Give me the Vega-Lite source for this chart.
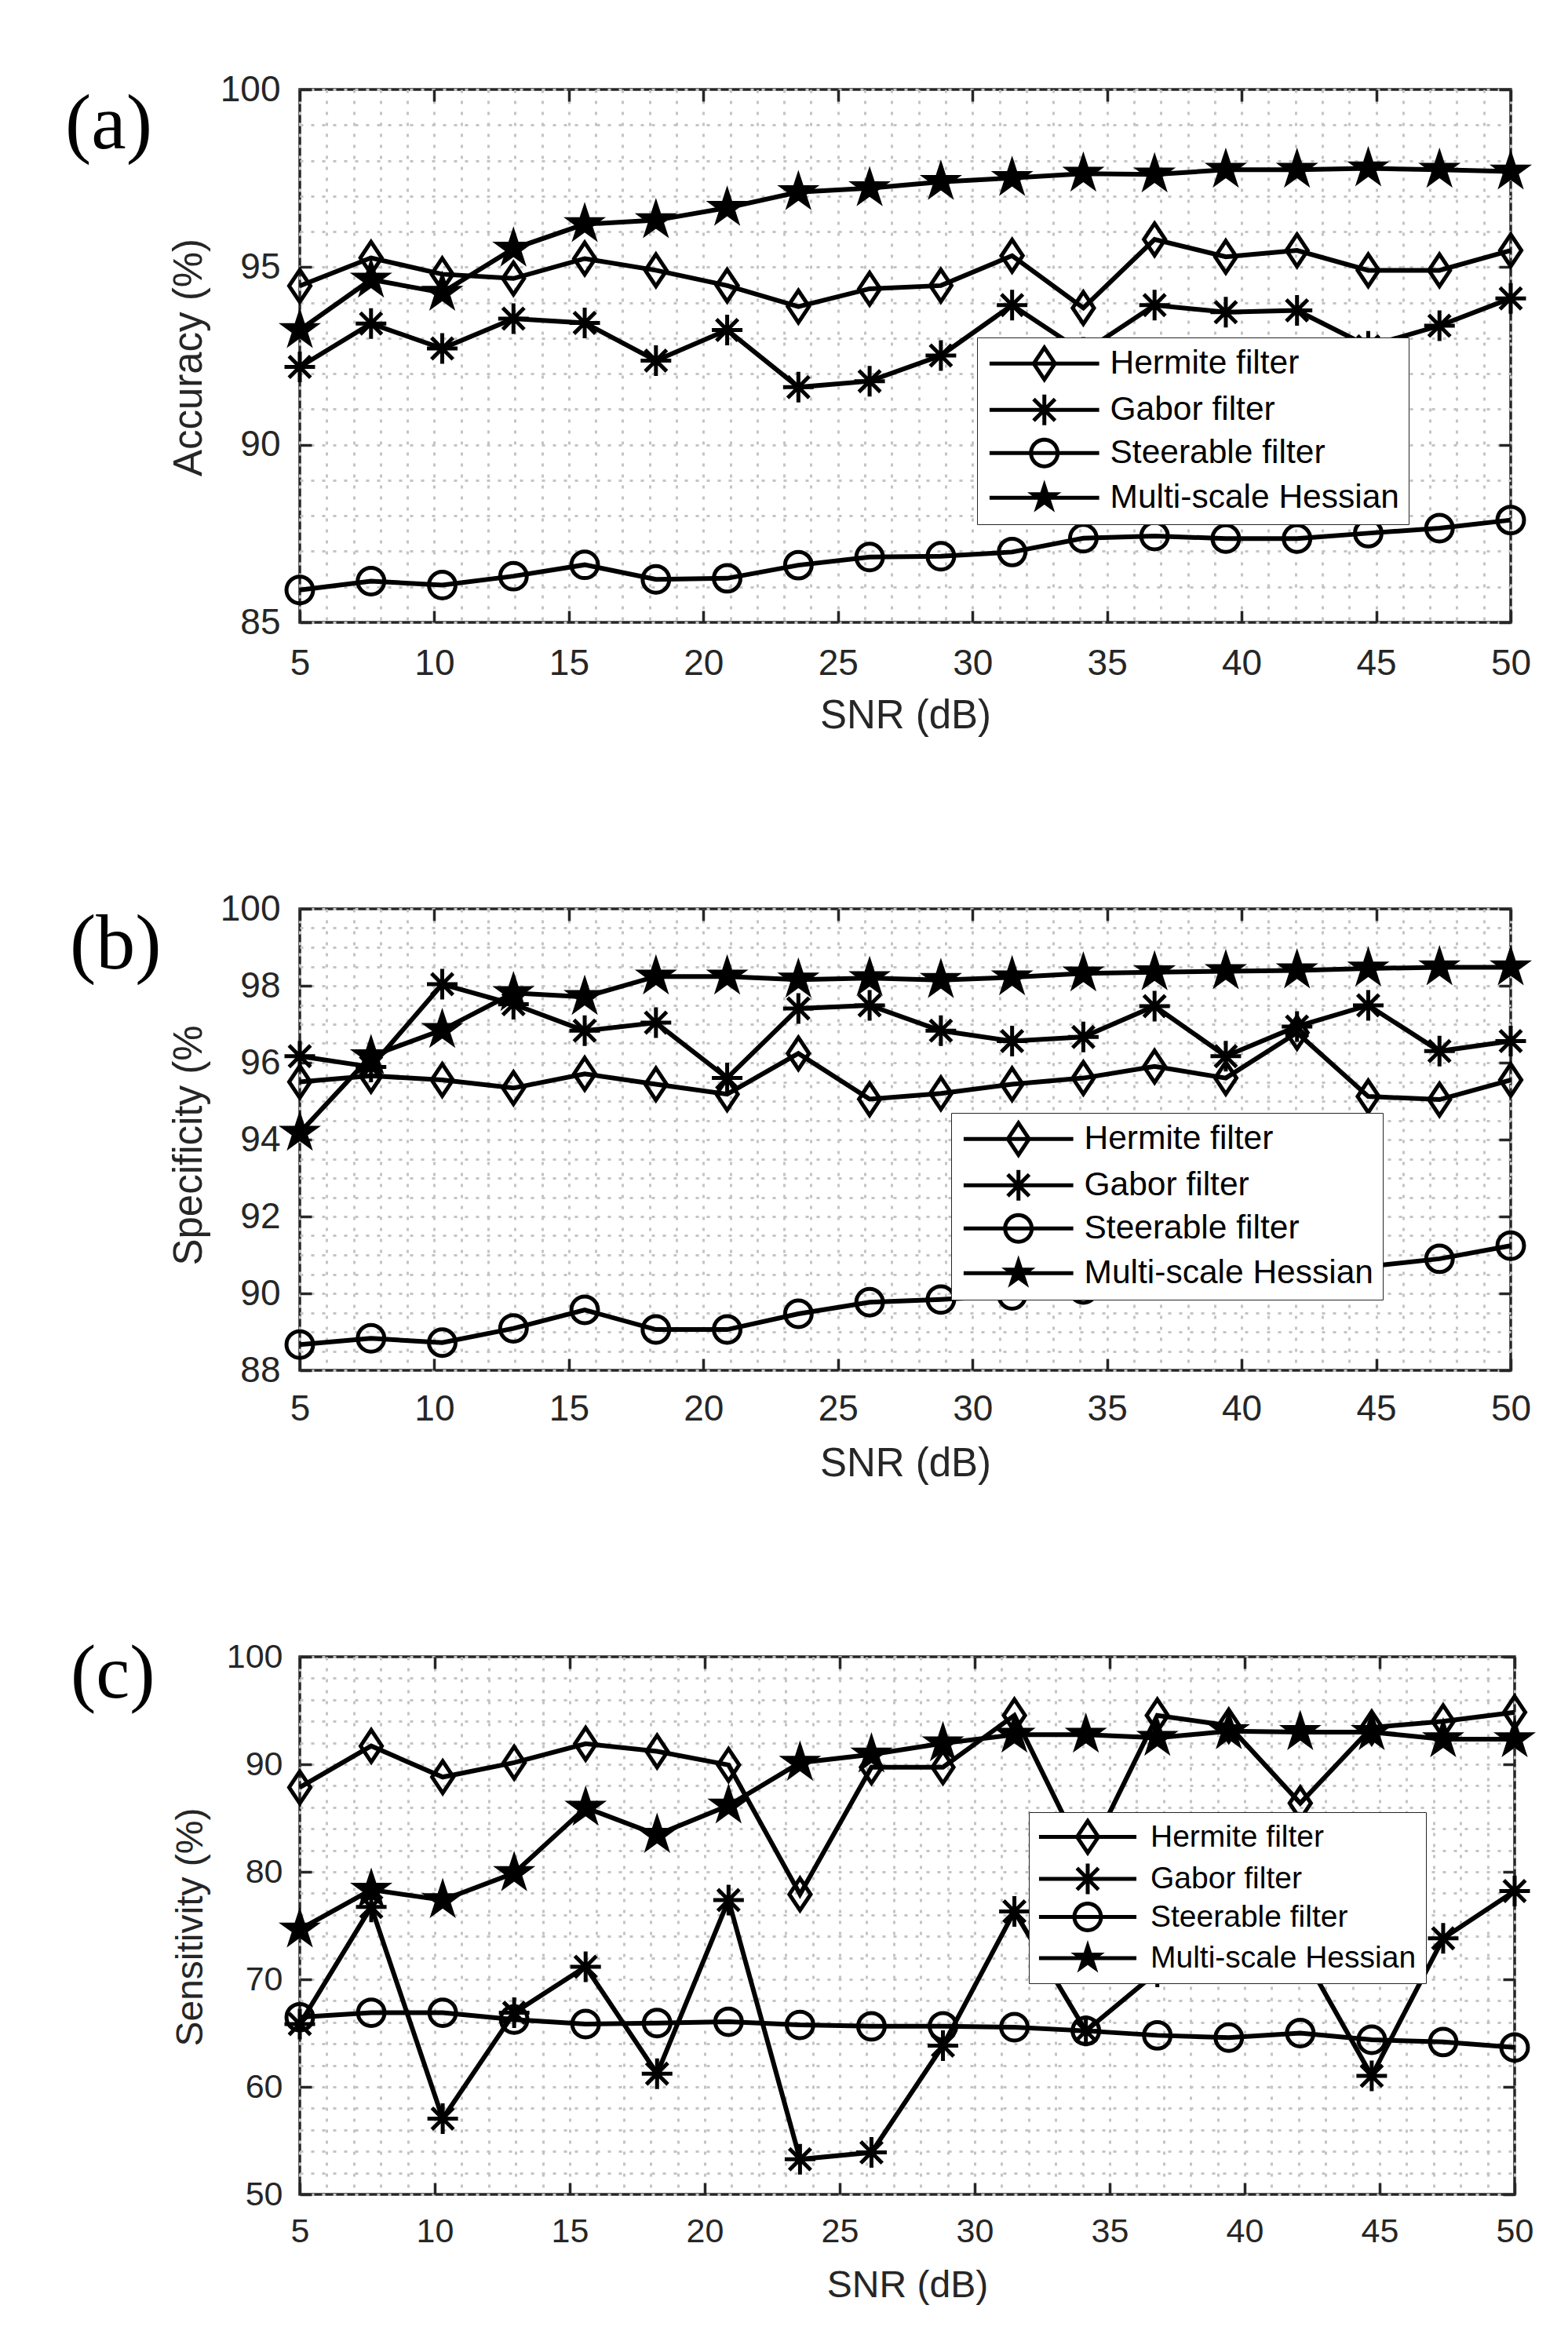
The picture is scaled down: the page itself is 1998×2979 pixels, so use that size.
{
  "$schema": "https://vega.github.io/schema/vega-lite/v6.json",
  "background": "white",
  "padding": {"left": 81, "top": 89, "right": 5, "bottom": 5},
  "bounds": "flush",
  "spacing": 365,
  "resolve": {"scale": {"shape": "independent", "fill": "independent"}, "legend": {"shape": "independent", "fill": "independent"}},
  "datasets": {
    "perf": [
      {"panel":"a","snr":5,"Hermite filter":94.47,"Gabor filter":92.19,"Steerable filter":85.91,"Multi-scale Hessian":93.23},
      {"panel":"a","snr":7.647,"Hermite filter":95.26,"Gabor filter":93.41,"Steerable filter":86.16,"Multi-scale Hessian":94.65},
      {"panel":"a","snr":10.294,"Hermite filter":94.8,"Gabor filter":92.71,"Steerable filter":86.05,"Multi-scale Hessian":94.28},
      {"panel":"a","snr":12.941,"Hermite filter":94.68,"Gabor filter":93.55,"Steerable filter":86.3,"Multi-scale Hessian":95.52},
      {"panel":"a","snr":15.588,"Hermite filter":95.24,"Gabor filter":93.43,"Steerable filter":86.62,"Multi-scale Hessian":96.21},
      {"panel":"a","snr":18.235,"Hermite filter":94.91,"Gabor filter":92.37,"Steerable filter":86.21,"Multi-scale Hessian":96.32},
      {"panel":"a","snr":20.882,"Hermite filter":94.48,"Gabor filter":93.23,"Steerable filter":86.24,"Multi-scale Hessian":96.67},
      {"panel":"a","snr":23.529,"Hermite filter":93.89,"Gabor filter":91.62,"Steerable filter":86.61,"Multi-scale Hessian":97.11},
      {"panel":"a","snr":26.176,"Hermite filter":94.39,"Gabor filter":91.79,"Steerable filter":86.84,"Multi-scale Hessian":97.22},
      {"panel":"a","snr":28.824,"Hermite filter":94.48,"Gabor filter":92.51,"Steerable filter":86.86,"Multi-scale Hessian":97.4},
      {"panel":"a","snr":31.471,"Hermite filter":95.32,"Gabor filter":93.93,"Steerable filter":86.98,"Multi-scale Hessian":97.51},
      {"panel":"a","snr":34.118,"Hermite filter":93.85,"Gabor filter":92.6,"Steerable filter":87.37,"Multi-scale Hessian":97.63},
      {"panel":"a","snr":36.765,"Hermite filter":95.78,"Gabor filter":93.93,"Steerable filter":87.43,"Multi-scale Hessian":97.61},
      {"panel":"a","snr":39.412,"Hermite filter":95.29,"Gabor filter":93.73,"Steerable filter":87.36,"Multi-scale Hessian":97.74},
      {"panel":"a","snr":42.059,"Hermite filter":95.47,"Gabor filter":93.78,"Steerable filter":87.36,"Multi-scale Hessian":97.74},
      {"panel":"a","snr":44.706,"Hermite filter":94.91,"Gabor filter":92.77,"Steerable filter":87.51,"Multi-scale Hessian":97.78},
      {"panel":"a","snr":47.353,"Hermite filter":94.91,"Gabor filter":93.35,"Steerable filter":87.65,"Multi-scale Hessian":97.74},
      {"panel":"a","snr":50,"Hermite filter":95.47,"Gabor filter":94.12,"Steerable filter":87.88,"Multi-scale Hessian":97.69},
      {"panel":"b","snr":5,"Hermite filter":95.5,"Gabor filter":96.17,"Steerable filter":88.67,"Multi-scale Hessian":94.18},
      {"panel":"b","snr":7.647,"Hermite filter":95.66,"Gabor filter":95.89,"Steerable filter":88.83,"Multi-scale Hessian":96.17},
      {"panel":"b","snr":10.294,"Hermite filter":95.55,"Gabor filter":98.04,"Steerable filter":88.72,"Multi-scale Hessian":96.85},
      {"panel":"b","snr":12.941,"Hermite filter":95.34,"Gabor filter":97.52,"Steerable filter":89.09,"Multi-scale Hessian":97.81},
      {"panel":"b","snr":15.588,"Hermite filter":95.71,"Gabor filter":96.83,"Steerable filter":89.57,"Multi-scale Hessian":97.71},
      {"panel":"b","snr":18.235,"Hermite filter":95.44,"Gabor filter":97.04,"Steerable filter":89.06,"Multi-scale Hessian":98.24},
      {"panel":"b","snr":20.882,"Hermite filter":95.18,"Gabor filter":95.6,"Steerable filter":89.06,"Multi-scale Hessian":98.24},
      {"panel":"b","snr":23.529,"Hermite filter":96.24,"Gabor filter":97.41,"Steerable filter":89.47,"Multi-scale Hessian":98.16},
      {"panel":"b","snr":26.176,"Hermite filter":95.05,"Gabor filter":97.49,"Steerable filter":89.77,"Multi-scale Hessian":98.2},
      {"panel":"b","snr":28.824,"Hermite filter":95.2,"Gabor filter":96.83,"Steerable filter":89.84,"Multi-scale Hessian":98.15},
      {"panel":"b","snr":31.471,"Hermite filter":95.44,"Gabor filter":96.56,"Steerable filter":89.95,"Multi-scale Hessian":98.22},
      {"panel":"b","snr":34.118,"Hermite filter":95.6,"Gabor filter":96.67,"Steerable filter":90.1,"Multi-scale Hessian":98.32},
      {"panel":"b","snr":36.765,"Hermite filter":95.9,"Gabor filter":97.47,"Steerable filter":90.25,"Multi-scale Hessian":98.35},
      {"panel":"b","snr":39.412,"Hermite filter":95.6,"Gabor filter":96.17,"Steerable filter":90.4,"Multi-scale Hessian":98.38},
      {"panel":"b","snr":42.059,"Hermite filter":96.78,"Gabor filter":96.94,"Steerable filter":90.55,"Multi-scale Hessian":98.4},
      {"panel":"b","snr":44.706,"Hermite filter":95.12,"Gabor filter":97.49,"Steerable filter":90.7,"Multi-scale Hessian":98.45},
      {"panel":"b","snr":47.353,"Hermite filter":95.04,"Gabor filter":96.3,"Steerable filter":90.9,"Multi-scale Hessian":98.48},
      {"panel":"b","snr":50,"Hermite filter":95.55,"Gabor filter":96.56,"Steerable filter":91.24,"Multi-scale Hessian":98.48},
      {"panel":"c","snr":5,"Hermite filter":87.85,"Gabor filter":65.84,"Steerable filter":66.47,"Multi-scale Hessian":74.64},
      {"panel":"c","snr":7.647,"Hermite filter":91.7,"Gabor filter":76.74,"Steerable filter":66.89,"Multi-scale Hessian":78.33},
      {"panel":"c","snr":10.294,"Hermite filter":88.81,"Gabor filter":57.04,"Steerable filter":66.89,"Multi-scale Hessian":77.37},
      {"panel":"c","snr":12.941,"Hermite filter":90.15,"Gabor filter":66.89,"Steerable filter":66.26,"Multi-scale Hessian":79.88},
      {"panel":"c","snr":15.588,"Hermite filter":91.91,"Gabor filter":71.17,"Steerable filter":65.84,"Multi-scale Hessian":85.96},
      {"panel":"c","snr":18.235,"Hermite filter":91.2,"Gabor filter":61.23,"Steerable filter":65.93,"Multi-scale Hessian":83.44},
      {"panel":"c","snr":20.882,"Hermite filter":89.94,"Gabor filter":77.37,"Steerable filter":66.05,"Multi-scale Hessian":86.17},
      {"panel":"c","snr":23.529,"Hermite filter":77.91,"Gabor filter":53.27,"Steerable filter":65.76,"Multi-scale Hessian":90.15},
      {"panel":"c","snr":26.176,"Hermite filter":89.73,"Gabor filter":53.9,"Steerable filter":65.63,"Multi-scale Hessian":90.91},
      {"panel":"c","snr":28.824,"Hermite filter":89.73,"Gabor filter":63.83,"Steerable filter":65.63,"Multi-scale Hessian":91.95},
      {"panel":"c","snr":31.471,"Hermite filter":94.55,"Gabor filter":76.32,"Steerable filter":65.55,"Multi-scale Hessian":92.75},
      {"panel":"c","snr":34.118,"Hermite filter":81.0,"Gabor filter":65.2,"Steerable filter":65.21,"Multi-scale Hessian":92.75},
      {"panel":"c","snr":36.765,"Hermite filter":94.55,"Gabor filter":70.7,"Steerable filter":64.79,"Multi-scale Hessian":92.46},
      {"panel":"c","snr":39.412,"Hermite filter":93.6,"Gabor filter":71.8,"Steerable filter":64.58,"Multi-scale Hessian":93.08},
      {"panel":"c","snr":42.059,"Hermite filter":86.38,"Gabor filter":72.8,"Steerable filter":65.0,"Multi-scale Hessian":93.0},
      {"panel":"c","snr":44.706,"Hermite filter":93.42,"Gabor filter":61.02,"Steerable filter":64.38,"Multi-scale Hessian":93.0},
      {"panel":"c","snr":47.353,"Hermite filter":94.0,"Gabor filter":73.81,"Steerable filter":64.17,"Multi-scale Hessian":92.33},
      {"panel":"c","snr":50,"Hermite filter":94.84,"Gabor filter":78.21,"Steerable filter":63.66,"Multi-scale Hessian":92.33}
    ]
  },
  "vconcat": [
    {
      "width": 1543, "height": 679,
      "title": {"text": "(a)", "orient": "top", "anchor": "start", "frame": "group", "font": "Liberation Serif", "fontSize": 100, "fontWeight": "normal", "color": "black", "baseline": "alphabetic", "offset": 0, "dx": -299, "dy": 198},
      "data": {"name": "perf"},
      "transform": [{"filter": "datum.panel === 'a'"}, {"fold": ["Hermite filter", "Gabor filter", "Steerable filter", "Multi-scale Hessian"], "as": ["series", "value"]}],
      "layer": [
        {
          "mark": {"type": "line", "strokeOpacity": 0},
          "encoding": {
            "x": {"field": "snr", "type": "quantitative", "scale": {"domain": [5, 50], "nice": false, "zero": false},
                  "axis": {"orient": "bottom", "grid": true, "values": [5,6,7,8,9,10,11,12,13,14,15,16,17,18,19,20,21,22,23,24,25,26,27,28,29,30,31,32,33,34,35,36,37,38,39,40,41,42,43,44,45,46,47,48,49,50], "labels": false, "ticks": false, "title": null}},
            "y": {"field": "value", "type": "quantitative", "scale": {"domain": [85, 100], "nice": false, "zero": false},
                  "axis": {"orient": "left", "grid": true, "values": [85,86,87,88,89,90,91,92,93,94,95,96,97,98,99,100], "labels": false, "ticks": false, "title": null}},
            "detail": {"field": "series"}
          }
        },
        {
          "mark": {"type": "line", "stroke": "black", "strokeWidth": 6},
          "encoding": {
            "x": {"field": "snr", "type": "quantitative",
                  "axis": {"orient": "bottom", "grid": false, "values": [5,10,15,20,25,30,35,40,45,50], "labelFontSize": 46, "labelBaseline": "middle", "labelPadding": 67, "title": "SNR (dB)", "titleFontSize": 51, "titleBaseline": "middle", "titleX": 771.5, "titleY": 119}},
            "y": {"field": "value", "type": "quantitative",
                  "axis": {"orient": "left", "grid": false, "values": [85,90,95,100], "labelFontSize": 46, "labelPadding": 40, "title": "Accuracy (%)", "titleFontSize": 51, "titleBaseline": "middle", "titleAngle": -90, "titleX": -141, "titleY": 341}},
            "detail": {"field": "series"}
          }
        },
        {
          "mark": {"type": "point", "filled": true, "stroke": "black", "strokeWidth": 5, "size": 1150, "opacity": 1},
          "encoding": {
            "x": {"field": "snr", "type": "quantitative", "axis": {"orient": "top", "grid": false, "values": [5,10,15,20,25,30,35,40,45,50], "labels": false, "title": null}},
            "y": {"field": "value", "type": "quantitative", "axis": {"orient": "right", "grid": false, "values": [85,90,95,100], "labels": false, "title": null}},
            "shape": {"field": "series", "type": "nominal",
                      "scale": {"domain": ["Hermite filter", "Gabor filter", "Steerable filter", "Multi-scale Hessian"],
                                "range": ["M0,-1.2L0.8,0L0,1.2L-0.8,0Z", "M0,-1.15L0,1.15M-1.15,0L1.15,0M-0.81,-0.81L0.81,0.81M-0.81,0.81L0.81,-0.81", "M1,0C1,0.5523,0.5523,1,0,1C-0.5523,1,-1,0.5523,-1,0C-1,-0.5523,-0.5523,-1,0,-1C0.5523,-1,1,-0.5523,1,0Z", "M0,-1.2L0.27,-0.371L1.141,-0.371L0.436,0.142L0.705,0.971L0,0.459L-0.705,0.971L-0.436,0.142L-1.141,-0.371L-0.27,-0.371Z"]},
                      "legend": null},
            "fill": {"field": "series", "type": "nominal",
                     "scale": {"domain": ["Hermite filter", "Gabor filter", "Steerable filter", "Multi-scale Hessian"], "range": ["transparent", "transparent", "transparent", "black"]},
                     "legend": null}
          }
        },
        {
          "transform": [{"filter": "false"}],
          "mark": {"type": "point", "filled": true, "fill": "black", "strokeWidth": 0, "opacity": 1, "size": 1150},
          "encoding": {
            "shape": {"field": "series", "type": "nominal",
                      "scale": {"domain": ["Hermite filter", "Gabor filter", "Steerable filter", "Multi-scale Hessian"],
                                "range": [
                                  "M-4.12,-0.147L4.12,-0.147L4.12,0.147L-4.12,0.147ZM0,-1.465L0.977,0L0,1.465L-0.977,0ZM0,-0.935L-0.623,0L0,0.935L0.623,0Z",
                                  "M-4.12,-0.147L4.12,-0.147L4.12,0.147L-4.12,0.147ZM-0.147,-1.15L0.147,-1.15L0.147,1.15L-0.147,1.15ZM-0.706,-0.914L0.914,0.706L0.706,0.914L-0.914,-0.706ZM-0.914,0.706L0.706,-0.914L0.914,-0.706L-0.706,0.914Z",
                                  "M-4.12,-0.147L4.12,-0.147L4.12,0.147L-4.12,0.147ZM1.147,0C1.147,0.6335,0.6335,1.147,0,1.147C-0.6335,1.147,-1.147,0.6335,-1.147,0C-1.147,-0.6335,-0.6335,-1.147,0,-1.147C0.6335,-1.147,1.147,-0.6335,1.147,0ZM0.853,0C0.853,-0.4711,0.4711,-0.853,0,-0.853C-0.4711,-0.853,-0.853,-0.4711,-0.853,0C-0.853,0.4711,-0.4711,0.853,0,0.853C0.4711,0.853,0.853,0.4711,0.853,0Z",
                                  "M-4.12,-0.147L4.12,-0.147L4.12,0.147L-4.12,0.147ZM0,-1.35L0.304,-0.417L1.284,-0.417L0.491,0.16L0.793,1.092L0,0.516L-0.793,1.092L-0.491,0.16L-1.284,-0.417L-0.304,-0.417Z"]},
                      "legend": {"orient": "none", "legendX": 863, "legendY": 316, "title": null, "direction": "vertical", "zindex": 1, "labelLimit": 1000,
                                 "labelFont": "Liberation Sans", "labelFontSize": 42.5, "labelColor": "black", "symbolSize": 1150, "symbolStrokeWidth": 0, "symbolFillColor": "black", "symbolOpacity": 1,
                                 "symbolOffset": 52.5, "labelOffset": 62.5, "rowPadding": 12, "padding": 12, "fillColor": "white", "strokeColor": "#262626",
                                 "encode": {"legend": {"strokeWidth": {"value": 3.5}}}}}
          }
        }
      ],
      "resolve": {"axis": {"x": "independent", "y": "independent"}, "scale": {"shape": "independent"}}
    },
    {
      "width": 1543, "height": 588,
      "title": {"text": "(b)", "orient": "top", "anchor": "start", "frame": "group", "font": "Liberation Serif", "fontSize": 100, "fontWeight": "normal", "color": "black", "baseline": "alphabetic", "offset": 0, "dx": -293, "dy": 199},
      "data": {"name": "perf"},
      "transform": [{"filter": "datum.panel === 'b'"}, {"fold": ["Hermite filter", "Gabor filter", "Steerable filter", "Multi-scale Hessian"], "as": ["series", "value"]}],
      "layer": [
        {
          "mark": {"type": "line", "strokeOpacity": 0},
          "encoding": {
            "x": {"field": "snr", "type": "quantitative", "scale": {"domain": [5, 50], "nice": false, "zero": false},
                  "axis": {"orient": "bottom", "grid": true, "values": [5,6,7,8,9,10,11,12,13,14,15,16,17,18,19,20,21,22,23,24,25,26,27,28,29,30,31,32,33,34,35,36,37,38,39,40,41,42,43,44,45,46,47,48,49,50], "labels": false, "ticks": false, "title": null}},
            "y": {"field": "value", "type": "quantitative", "scale": {"domain": [88, 100], "nice": false, "zero": false},
                  "axis": {"orient": "left", "grid": true, "values": [88,88.5,89,89.5,90,90.5,91,91.5,92,92.5,93,93.5,94,94.5,95,95.5,96,96.5,97,97.5,98,98.5,99,99.5,100], "labels": false, "ticks": false, "title": null}},
            "detail": {"field": "series"}
          }
        },
        {
          "mark": {"type": "line", "stroke": "black", "strokeWidth": 6},
          "encoding": {
            "x": {"field": "snr", "type": "quantitative",
                  "axis": {"orient": "bottom", "grid": false, "values": [5,10,15,20,25,30,35,40,45,50], "labelFontSize": 46, "labelBaseline": "middle", "labelPadding": 64, "title": "SNR (dB)", "titleFontSize": 51, "titleBaseline": "middle", "titleX": 771.5, "titleY": 119}},
            "y": {"field": "value", "type": "quantitative",
                  "axis": {"orient": "left", "grid": false, "values": [88,90,92,94,96,98,100], "labelFontSize": 46, "labelPadding": 40, "title": "Specificity (%", "titleFontSize": 51, "titleBaseline": "middle", "titleAngle": -90, "titleX": -141, "titleY": 301}},
            "detail": {"field": "series"}
          }
        },
        {
          "mark": {"type": "point", "filled": true, "stroke": "black", "strokeWidth": 5, "size": 1150, "opacity": 1},
          "encoding": {
            "x": {"field": "snr", "type": "quantitative", "axis": {"orient": "top", "grid": false, "values": [5,10,15,20,25,30,35,40,45,50], "labels": false, "title": null}},
            "y": {"field": "value", "type": "quantitative", "axis": {"orient": "right", "grid": false, "values": [88,90,92,94,96,98,100], "labels": false, "title": null}},
            "shape": {"field": "series", "type": "nominal",
                      "scale": {"domain": ["Hermite filter", "Gabor filter", "Steerable filter", "Multi-scale Hessian"],
                                "range": ["M0,-1.2L0.8,0L0,1.2L-0.8,0Z", "M0,-1.15L0,1.15M-1.15,0L1.15,0M-0.81,-0.81L0.81,0.81M-0.81,0.81L0.81,-0.81", "M1,0C1,0.5523,0.5523,1,0,1C-0.5523,1,-1,0.5523,-1,0C-1,-0.5523,-0.5523,-1,0,-1C0.5523,-1,1,-0.5523,1,0Z", "M0,-1.2L0.27,-0.371L1.141,-0.371L0.436,0.142L0.705,0.971L0,0.459L-0.705,0.971L-0.436,0.142L-1.141,-0.371L-0.27,-0.371Z"]},
                      "legend": null},
            "fill": {"field": "series", "type": "nominal",
                     "scale": {"domain": ["Hermite filter", "Gabor filter", "Steerable filter", "Multi-scale Hessian"], "range": ["transparent", "transparent", "transparent", "black"]},
                     "legend": null}
          }
        },
        {
          "transform": [{"filter": "false"}],
          "mark": {"type": "point", "filled": true, "fill": "black", "strokeWidth": 0, "opacity": 1, "size": 1150},
          "encoding": {
            "shape": {"field": "series", "type": "nominal",
                      "scale": {"domain": ["Hermite filter", "Gabor filter", "Steerable filter", "Multi-scale Hessian"],
                                "range": [
                                  "M-4.12,-0.147L4.12,-0.147L4.12,0.147L-4.12,0.147ZM0,-1.465L0.977,0L0,1.465L-0.977,0ZM0,-0.935L-0.623,0L0,0.935L0.623,0Z",
                                  "M-4.12,-0.147L4.12,-0.147L4.12,0.147L-4.12,0.147ZM-0.147,-1.15L0.147,-1.15L0.147,1.15L-0.147,1.15ZM-0.706,-0.914L0.914,0.706L0.706,0.914L-0.914,-0.706ZM-0.914,0.706L0.706,-0.914L0.914,-0.706L-0.706,0.914Z",
                                  "M-4.12,-0.147L4.12,-0.147L4.12,0.147L-4.12,0.147ZM1.147,0C1.147,0.6335,0.6335,1.147,0,1.147C-0.6335,1.147,-1.147,0.6335,-1.147,0C-1.147,-0.6335,-0.6335,-1.147,0,-1.147C0.6335,-1.147,1.147,-0.6335,1.147,0ZM0.853,0C0.853,-0.4711,0.4711,-0.853,0,-0.853C-0.4711,-0.853,-0.853,-0.4711,-0.853,0C-0.853,0.4711,-0.4711,0.853,0,0.853C0.4711,0.853,0.853,0.4711,0.853,0Z",
                                  "M-4.12,-0.147L4.12,-0.147L4.12,0.147L-4.12,0.147ZM0,-1.35L0.304,-0.417L1.284,-0.417L0.491,0.16L0.793,1.092L0,0.516L-0.793,1.092L-0.491,0.16L-1.284,-0.417L-0.304,-0.417Z"]},
                      "legend": {"orient": "none", "legendX": 830, "legendY": 260, "title": null, "direction": "vertical", "zindex": 1, "labelLimit": 1000,
                                 "labelFont": "Liberation Sans", "labelFontSize": 42.5, "labelColor": "black", "symbolSize": 1150, "symbolStrokeWidth": 0, "symbolFillColor": "black", "symbolOpacity": 1,
                                 "symbolOffset": 52.5, "labelOffset": 62.5, "rowPadding": 12, "padding": 12, "fillColor": "white", "strokeColor": "#262626",
                                 "encode": {"legend": {"strokeWidth": {"value": 3.5}}}}}
          }
        }
      ],
      "resolve": {"axis": {"x": "independent", "y": "independent"}, "scale": {"shape": "independent"}}
    },
    {
      "width": 1548, "height": 685,
      "title": {"text": "(c)", "orient": "top", "anchor": "start", "frame": "group", "font": "Liberation Serif", "fontSize": 97, "fontWeight": "normal", "color": "black", "baseline": "alphabetic", "offset": 0, "dx": -292, "dy": 170},
      "data": {"name": "perf"},
      "transform": [{"filter": "datum.panel === 'c'"}, {"fold": ["Hermite filter", "Gabor filter", "Steerable filter", "Multi-scale Hessian"], "as": ["series", "value"]}],
      "layer": [
        {
          "mark": {"type": "line", "strokeOpacity": 0},
          "encoding": {
            "x": {"field": "snr", "type": "quantitative", "scale": {"domain": [5, 50], "nice": false, "zero": false},
                  "axis": {"orient": "bottom", "grid": true, "values": [5,6,7,8,9,10,11,12,13,14,15,16,17,18,19,20,21,22,23,24,25,26,27,28,29,30,31,32,33,34,35,36,37,38,39,40,41,42,43,44,45,46,47,48,49,50], "labels": false, "ticks": false, "title": null}},
            "y": {"field": "value", "type": "quantitative", "scale": {"domain": [50, 100], "nice": false, "zero": false},
                  "axis": {"orient": "left", "grid": true, "values": [50,52,54,56,58,60,62,64,66,68,70,72,74,76,78,80,82,84,86,88,90,92,94,96,98,100], "labels": false, "ticks": false, "title": null}},
            "detail": {"field": "series"}
          }
        },
        {
          "mark": {"type": "line", "stroke": "black", "strokeWidth": 6},
          "encoding": {
            "x": {"field": "snr", "type": "quantitative",
                  "axis": {"orient": "bottom", "grid": false, "values": [5,10,15,20,25,30,35,40,45,50], "labelFontSize": 43, "labelBaseline": "middle", "labelPadding": 62, "title": "SNR (dB)", "titleFontSize": 48, "titleBaseline": "middle", "titleX": 774, "titleY": 116}},
            "y": {"field": "value", "type": "quantitative",
                  "axis": {"orient": "left", "grid": false, "values": [50,60,70,80,90,100], "labelFontSize": 43, "labelPadding": 37, "title": "Sensitivity (%)", "titleFontSize": 48, "titleBaseline": "middle", "titleAngle": -90, "titleX": -139, "titleY": 344}},
            "detail": {"field": "series"}
          }
        },
        {
          "mark": {"type": "point", "filled": true, "stroke": "black", "strokeWidth": 5, "size": 1150, "opacity": 1},
          "encoding": {
            "x": {"field": "snr", "type": "quantitative", "axis": {"orient": "top", "grid": false, "values": [5,10,15,20,25,30,35,40,45,50], "labels": false, "title": null}},
            "y": {"field": "value", "type": "quantitative", "axis": {"orient": "right", "grid": false, "values": [50,60,70,80,90,100], "labels": false, "title": null}},
            "shape": {"field": "series", "type": "nominal",
                      "scale": {"domain": ["Hermite filter", "Gabor filter", "Steerable filter", "Multi-scale Hessian"],
                                "range": ["M0,-1.2L0.8,0L0,1.2L-0.8,0Z", "M0,-1.15L0,1.15M-1.15,0L1.15,0M-0.81,-0.81L0.81,0.81M-0.81,0.81L0.81,-0.81", "M1,0C1,0.5523,0.5523,1,0,1C-0.5523,1,-1,0.5523,-1,0C-1,-0.5523,-0.5523,-1,0,-1C0.5523,-1,1,-0.5523,1,0Z", "M0,-1.2L0.27,-0.371L1.141,-0.371L0.436,0.142L0.705,0.971L0,0.459L-0.705,0.971L-0.436,0.142L-1.141,-0.371L-0.27,-0.371Z"]},
                      "legend": null},
            "fill": {"field": "series", "type": "nominal",
                     "scale": {"domain": ["Hermite filter", "Gabor filter", "Steerable filter", "Multi-scale Hessian"], "range": ["transparent", "transparent", "transparent", "black"]},
                     "legend": null}
          }
        },
        {
          "transform": [{"filter": "false"}],
          "mark": {"type": "point", "filled": true, "fill": "black", "strokeWidth": 0, "opacity": 1, "size": 1150},
          "encoding": {
            "shape": {"field": "series", "type": "nominal",
                      "scale": {"domain": ["Hermite filter", "Gabor filter", "Steerable filter", "Multi-scale Hessian"],
                                "range": [
                                  "M-3.66,-0.147L3.66,-0.147L3.66,0.147L-3.66,0.147ZM0,-1.465L0.977,0L0,1.465L-0.977,0ZM0,-0.935L-0.623,0L0,0.935L0.623,0Z",
                                  "M-3.66,-0.147L3.66,-0.147L3.66,0.147L-3.66,0.147ZM-0.147,-1.15L0.147,-1.15L0.147,1.15L-0.147,1.15ZM-0.706,-0.914L0.914,0.706L0.706,0.914L-0.914,-0.706ZM-0.914,0.706L0.706,-0.914L0.914,-0.706L-0.706,0.914Z",
                                  "M-3.66,-0.147L3.66,-0.147L3.66,0.147L-3.66,0.147ZM1.147,0C1.147,0.6335,0.6335,1.147,0,1.147C-0.6335,1.147,-1.147,0.6335,-1.147,0C-1.147,-0.6335,-0.6335,-1.147,0,-1.147C0.6335,-1.147,1.147,-0.6335,1.147,0ZM0.853,0C0.853,-0.4711,0.4711,-0.853,0,-0.853C-0.4711,-0.853,-0.853,-0.4711,-0.853,0C-0.853,0.4711,-0.4711,0.853,0,0.853C0.4711,0.853,0.853,0.4711,0.853,0Z",
                                  "M-3.66,-0.147L3.66,-0.147L3.66,0.147L-3.66,0.147ZM0,-1.35L0.304,-0.417L1.284,-0.417L0.491,0.16L0.793,1.092L0,0.516L-0.793,1.092L-0.491,0.16L-1.284,-0.417L-0.304,-0.417Z"]},
                      "legend": {"orient": "none", "legendX": 929, "legendY": 198, "title": null, "direction": "vertical", "zindex": 1, "labelLimit": 1000,
                                 "labelFont": "Liberation Sans", "labelFontSize": 39, "labelColor": "black", "symbolSize": 1150, "symbolStrokeWidth": 0, "symbolFillColor": "black", "symbolOpacity": 1,
                                 "symbolOffset": 43.5, "labelOffset": 60.5, "rowPadding": 8.5, "padding": 12, "fillColor": "white", "strokeColor": "#262626",
                                 "encode": {"legend": {"strokeWidth": {"value": 3.5}}}}}
          }
        }
      ],
      "resolve": {"axis": {"x": "independent", "y": "independent"}, "scale": {"shape": "independent"}}
    }
  ],
  "config": {
    "font": "Liberation Sans",
    "view": {"stroke": "#262626", "strokeWidth": 3.5},
    "axis": {"labelFont": "Liberation Sans", "titleFont": "Liberation Sans", "labelColor": "#262626", "titleColor": "#262626", "tickColor": "#262626", "tickWidth": 3.5, "tickSize": -15, "domain": false, "titleFontWeight": "normal", "labelFlush": false, "labelOverlap": false, "labelBound": false, "gridColor": "#c4c4c4", "gridDash": [4, 10], "gridWidth": 3, "gridOpacity": 1}
  }
}
